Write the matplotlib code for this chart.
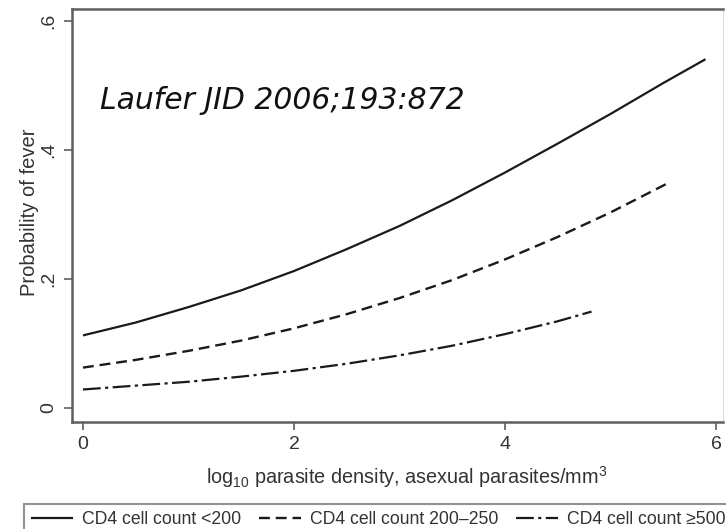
import matplotlib
matplotlib.use("Agg")
import matplotlib.pyplot as plt

plt.rcParams['font.family'] = ['Liberation Sans', 'DejaVu Sans']
plt.rcParams['mathtext.fontset'] = 'custom'
plt.rcParams['mathtext.rm'] = 'Liberation Sans'
plt.rcParams['mathtext.it'] = 'Liberation Sans:italic'

# Data
x_low = [0, 0.5, 1, 1.5, 2, 2.5, 3, 3.5, 4, 4.5, 5, 5.5, 5.9]
p_low = [0.112, 0.132, 0.156, 0.182, 0.212, 0.246, 0.282, 0.322, 0.365, 0.410, 0.456, 0.504, 0.541]

x_mid = [0, 0.5, 1, 1.5, 2, 2.5, 3, 3.5, 4, 4.5, 5, 5.55]
p_mid = [0.062, 0.074, 0.088, 0.104, 0.123, 0.145, 0.170, 0.198, 0.230, 0.265, 0.303, 0.349]

x_high = [0, 0.5, 1, 1.5, 2, 2.5, 3, 3.5, 4, 4.5, 4.82]
p_high = [0.028, 0.034, 0.040, 0.048, 0.057, 0.068, 0.081, 0.096, 0.114, 0.134, 0.149]

series_labels = ["CD4 cell count <200", "CD4 cell count 200\u2013250", "CD4 cell count \u2265500"]
x_ticks = [0, 2, 4, 6]
y_ticks = [0, 0.2, 0.4, 0.6]
y_tick_labels = ["0", ".2", ".4", ".6"]

W, H = 726, 529
fig = plt.figure(figsize=(W / 100, H / 100), dpi=100)
L, R, T, B = 72, 723, 9, 422
ax = fig.add_axes([L / W, 1 - B / H, (R - L) / W, (B - T) / H])

lc = '#1a1a1a'
l1, = ax.plot(x_low, p_low, color=lc, lw=1.6, solid_capstyle='butt')
l2, = ax.plot(x_mid, p_mid, color=lc, lw=1.7, linestyle=(0, (4.6, 2.5)))
l3, = ax.plot(x_high, p_high, color=lc, lw=1.6, linestyle=(0, (8.0, 2.0, 1.4, 2.0)))

ax.set_xlim(-0.104, 6.066)
ax.set_ylim(-0.0225, 0.619)
ax.set_xticks(x_ticks)
ax.set_xticklabels([str(v) for v in x_ticks])
ax.set_yticks(y_ticks)
ax.set_yticklabels(y_tick_labels, rotation=90, va='center')

spine_c = '#5f5f5f'
for s in ['left', 'top', 'bottom']:
    ax.spines[s].set_color(spine_c)
    ax.spines[s].set_linewidth(1.8)
ax.spines['right'].set_color('#dddddd')
ax.spines['right'].set_linewidth(0.8)

ax.tick_params(axis='both', direction='out', length=6, width=1.2, color=spine_c,
               labelsize=14, labelcolor='#333333')
ax.tick_params(axis='x', pad=4)
ax.tick_params(axis='y', pad=4.5)

ax.set_xlabel("log$_{10}$ parasite density, asexual parasites/mm$^3$", fontsize=14.3, color='#333333')
ax.xaxis.set_label_coords((407 - L) / (R - L), (B - 477) / (B - T))
ax.xaxis.label.set_va('center')
ax.set_ylabel("Probability of fever", fontsize=14.5, color='#333333')
ax.yaxis.set_label_coords((30 - L) / (R - L), (B - 212) / (B - T))
ax.yaxis.label.set_va('center')

fig.text(100 / W, 1 - 109 / H, "Laufer JID 2006;193:872", family='DejaVu Sans',
         style='italic', fontsize=21.5, color='#111111', ha='left', va='baseline')

leg = fig.legend([l1, l2, l3], series_labels, loc='upper left',
                 bbox_to_anchor=(24 / W, 1 - 504 / H), ncol=3, frameon=True,
                 fancybox=False, fontsize=12.7, handlelength=2.4, handletextpad=0.5,
                 columnspacing=1.0, borderpad=0.4, borderaxespad=0)
leg.get_frame().set_edgecolor('#777777')
leg.get_frame().set_linewidth(1.5)
for t in leg.get_texts():
    t.set_color('#333333')

fig.savefig("out.png", dpi=100)
